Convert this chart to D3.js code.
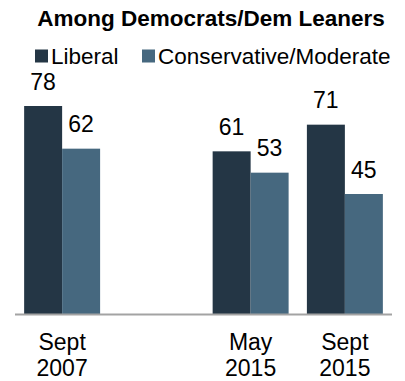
<!DOCTYPE html>
<html>
<head>
<meta charset="utf-8">
<script src="https://cdn.jsdelivr.net/npm/d3@7"></script>
<style>
  html, body { margin: 0; padding: 0; background: #fff; }
  svg text { font-family: "Liberation Sans", Arial, sans-serif; fill: #000; }
</style>
</head>
<body>
<svg id="chart" width="405" height="381"></svg>
<script>
// Survey waves; the empty slot keeps the gap between 2007 and 2015
const periods = ["Sept 2007", "gap", "May 2015", "Sept 2015"];
const periodLines = {
  "Sept 2007": ["Sept", "2007"],
  "May 2015": ["May", "2015"],
  "Sept 2015": ["Sept", "2015"]
};
const seriesNames = ["Liberal", "Conservative/Moderate"];
const liberal = [78, null, 61, 71];
const conservative = [62, null, 53, 45];
const colors = ["#243645", "#46687f"];

const svg = d3.select("#chart");
const baseline = 314;

const x = d3.scaleBand()
  .domain(periods)
  .range([15, 392])
  .paddingInner(0.194)
  .paddingOuter(0.097);

const xs = d3.scaleBand()
  .domain(seriesNames)
  .range([0, x.bandwidth()]);

const y = d3.scaleLinear()
  .domain([0, 78])
  .range([baseline, 106]);

// Title
svg.append("text")
  .attr("x", 211)
  .attr("y", 26)
  .attr("text-anchor", "middle")
  .style("font-weight", "bold")
  .style("font-size", "22.5px")
  .text("Among Democrats/Dem Leaners");

// Legend
const legendX = [35, 142];
const legend = svg.selectAll("g.legend")
  .data(seriesNames)
  .join("g")
  .attr("class", "legend")
  .attr("transform", (d, i) => `translate(${legendX[i]},0)`);
legend.append("rect")
  .attr("x", 0).attr("y", 49.5)
  .attr("width", 13).attr("height", 13)
  .attr("fill", (d, i) => colors[i]);
legend.append("text")
  .attr("x", 16).attr("y", 63.5)
  .style("font-size", "22.5px")
  .text(d => d);

// Bars and value labels
const rows = [];
periods.forEach((p, i) => {
  if (liberal[i] != null) rows.push({ period: p, series: seriesNames[0], value: liberal[i], color: colors[0] });
  if (conservative[i] != null) rows.push({ period: p, series: seriesNames[1], value: conservative[i], color: colors[1] });
});

svg.append("g").selectAll("rect")
  .data(rows)
  .join("rect")
  .attr("x", d => x(d.period) + xs(d.series))
  .attr("y", d => y(d.value))
  .attr("width", xs.bandwidth())
  .attr("height", d => baseline - y(d.value))
  .attr("fill", d => d.color);

svg.append("g").selectAll("text")
  .data(rows)
  .join("text")
  .attr("x", d => x(d.period) + xs(d.series) + xs.bandwidth() / 2)
  .attr("y", d => y(d.value) - 16.5)
  .attr("text-anchor", "middle")
  .style("font-size", "23px")
  .text(d => d.value);

// Baseline
svg.append("line")
  .attr("x1", 15).attr("x2", 392)
  .attr("y1", baseline + 0.5).attr("y2", baseline + 0.5)
  .attr("stroke", "#a3a3a3")
  .attr("stroke-width", 2);

// Period labels
const labels = svg.append("g").selectAll("text")
  .data(periods.filter(p => periodLines[p]))
  .join("text")
  .attr("text-anchor", "middle")
  .style("font-size", "23px");
labels.selectAll("tspan")
  .data(p => periodLines[p].map(t => ({ p, t })))
  .join("tspan")
  .attr("x", d => x(d.p) + x.bandwidth() / 2)
  .attr("y", (d, i) => 350 + i * 25.5)
  .text(d => d.t);
</script>
</body>
</html>
